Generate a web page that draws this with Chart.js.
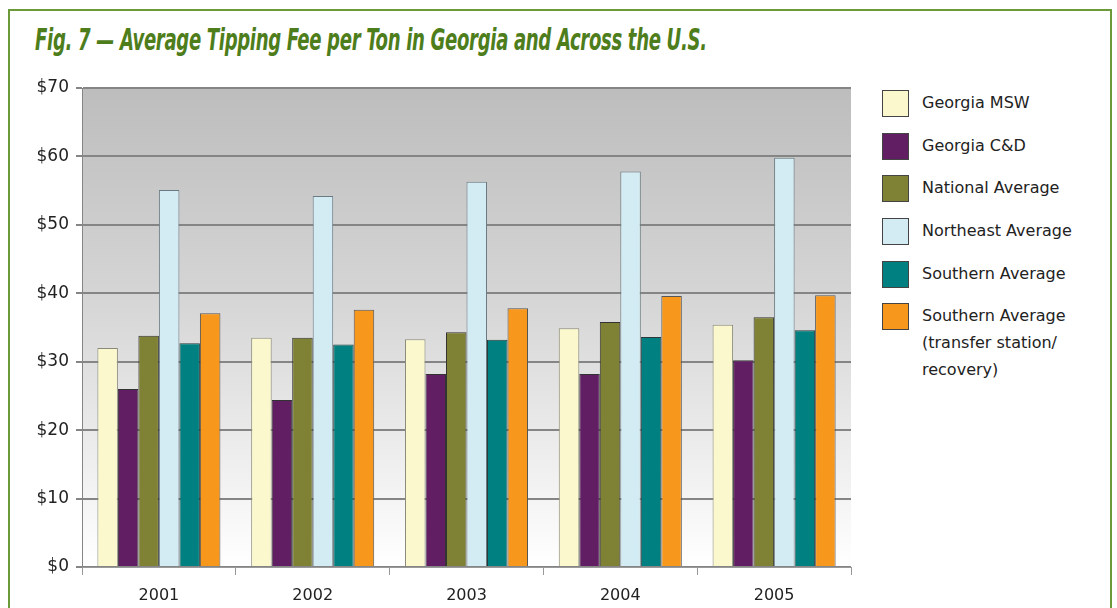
<!DOCTYPE html>
<html><head><meta charset="utf-8">
<script src="https://cdn.jsdelivr.net/npm/chart.js@4.4.1/dist/chart.umd.min.js"></script>
<style>
html,body{margin:0;padding:0;background:#fff;width:1117px;height:608px;overflow:hidden;}
#frame{position:absolute;left:8px;top:9px;width:1104px;height:620px;border:2px solid #6a9a3a;box-sizing:border-box;}
#title{position:absolute;left:35px;top:22px;font-family:"DejaVu Sans Condensed","DejaVu Sans",sans-serif;font-weight:bold;font-style:italic;font-size:30px;color:#4e7d1c;white-space:nowrap;transform-origin:0 0;transform:scaleX(0.67);letter-spacing:-0.5px;}
#wrap{position:absolute;left:0;top:70px;width:870px;height:538px;}
#legend{position:absolute;left:882px;top:90px;font-family:"DejaVu Sans",sans-serif;font-size:16px;color:#222;}
.li{position:relative;height:42.7px;}
.sw{position:absolute;left:0;top:0;width:25px;height:25px;border:1px solid #444;}
.tx{position:absolute;left:40px;top:-1px;line-height:27px;white-space:nowrap;}
</style></head><body>
<div id="frame"></div>
<div id="title">Fig. 7 — Average Tipping Fee per Ton in Georgia and Across the U.S.</div>
<div id="wrap"><canvas id="c" width="870" height="538"></canvas></div>
<div id="legend"></div>
<script>
const categories = ["2001","2002","2003","2004","2005"];
const seriesNames = ["Georgia MSW","Georgia C&D","National Average","Northeast Average","Southern Average","Southern Average\n(transfer station/\nrecovery)"];
const georgiaMSW = [32.0, 33.5, 33.3, 34.9, 35.4];
const georgiaCD = [26.0, 24.4, 28.2, 28.2, 30.2];
const nationalAvg = [33.8, 33.5, 34.3, 35.8, 36.5];
const northeastAvg = [55.1, 54.2, 56.3, 57.8, 59.8];
const southernAvg = [32.7, 32.5, 33.2, 33.6, 34.6];
const southernTransfer = [37.1, 37.6, 37.8, 39.6, 39.7];
const yTicks = [0,10,20,30,40,50,60,70];

const colors = ["#fcf8cd","#621e62","#7f8234","#d3ebf2","#008080","#f7981d"];
const borders = ["#8a8a7a","#333","#333","#6a7a80","#2a3a3a","#555"];
const allData = [georgiaMSW, georgiaCD, nationalAvg, northeastAvg, southernAvg, southernTransfer];

const datasets = allData.map((d,i)=>({
  label: seriesNames[i], data: d, backgroundColor: colors[i], borderColor: borders[i], borderWidth: 1,
  categoryPercentage: 0.8, barPercentage: 1.0
}));

const bgPlugin = {
  id:'bg',
  beforeDraw(chart){
    const {ctx, chartArea:a} = chart;
    const g = ctx.createLinearGradient(0,a.top,0,a.bottom);
    g.addColorStop(0,'#bdbdbd');
    g.addColorStop(0.45,'#d6d6d6');
    g.addColorStop(1,'#ffffff');
    ctx.save(); ctx.fillStyle=g; ctx.fillRect(a.left,a.top,a.right-a.left,a.bottom-a.top); ctx.restore();
  }
};

new Chart(document.getElementById('c'), {
  type:'bar',
  data:{labels:categories, datasets},
  plugins:[bgPlugin],
  options:{
    responsive:false, animation:false,
    layout:{padding:{top:18,right:19,left:0,bottom:0}},
    plugins:{legend:{display:false},tooltip:{enabled:false}},
    scales:{
      y:{
        min:0,max:70,
        afterFit(s){s.width=82;},
        afterBuildTicks(s){s.ticks = yTicks.map(v=>({value:v}));},
        ticks:{callback:v=>'$'+v, font:{family:'DejaVu Sans',size:17}, color:'#222', padding:7},
        grid:{color:'#858585', lineWidth:2, tickLength:6, tickColor:'#858585'},
        border:{color:'#858585', width:1}
      },
      x:{
        afterFit(s){s.height=41;},
        ticks:{font:{family:'DejaVu Sans',size:16}, color:'#222', padding:11},
        grid:{offset:true, drawOnChartArea:false, tickLength:8, color:'#999', lineWidth:1},
        border:{color:'#999', width:1}
      }
    }
  }
});

const leg = document.getElementById('legend');
seriesNames.forEach((n,i)=>{
  const row=document.createElement('div'); row.className='li';
  const sw=document.createElement('div'); sw.className='sw'; sw.style.background=colors[i];
  const tx=document.createElement('div'); tx.className='tx'; tx.innerHTML=n.split('\n').join('<br>');
  row.appendChild(sw); row.appendChild(tx); leg.appendChild(row);
});
</script>
</body></html>
